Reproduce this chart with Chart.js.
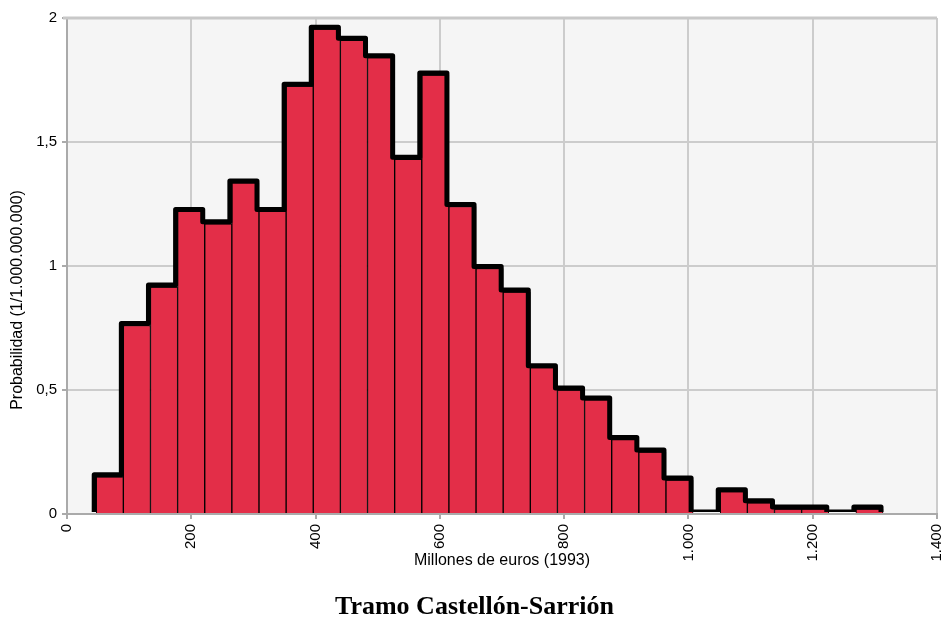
<!DOCTYPE html>
<html>
<head>
<meta charset="utf-8">
<script src="https://cdn.jsdelivr.net/npm/chart.js@4/dist/chart.umd.min.js"></script>
<style>
  html, body { margin: 0; padding: 0; background: #fff; }
  #wrap { width: 945px; height: 618px; }
</style>
</head>
<body>
<div id="wrap"><canvas id="chart" width="945" height="618"></canvas></div>
<script>
// Bin edges (millones de euros, 1993)
const binEdges = [47, 90.66, 134.32, 177.98, 221.64, 265.3, 308.96, 352.62, 396.28, 439.94,
  483.6, 527.26, 570.92, 614.58, 658.24, 701.9, 745.56, 789.22, 832.88, 876.54,
  920.2, 963.86, 1007.52, 1051.18, 1094.84, 1138.5, 1182.16, 1225.82, 1269.48, 1313.14];

// Probability per bin (1/1.000.000.000)
const probValues = [0.15, 0.76, 0.915, 1.22, 1.17, 1.335, 1.22, 1.725, 1.955, 1.91,
  1.84, 1.43, 1.77, 1.24, 0.99, 0.895, 0.59, 0.50, 0.46, 0.30,
  0.25, 0.137, 0, 0.09, 0.045, 0.02, 0.02, 0, 0.02];

const xTicks = [0, 200, 400, 600, 800, 1000, 1200, 1400];
const yTicks = [0, 0.5, 1, 1.5, 2];

const chartTitle = "Tramo Castellón-Sarrión";
const xTitle = "Millones de euros (1993)";
const yTitle = "Probabilidad (1/1.000.000.000)";

// bars sit at the centre of each bin
const barPoints = probValues.map((v, i) => ({ x: (binEdges[i] + binEdges[i + 1]) / 2, y: v }));

// stepped outline over the histogram
const outlinePoints = [{ x: binEdges[0], y: 0 }];
probValues.forEach((v, i) => outlinePoints.push({ x: binEdges[i], y: v }));
outlinePoints.push({ x: binEdges[binEdges.length - 1], y: 0 });

const fmtThousands = (v) => String(v).replace(/\B(?=(\d{3})+(?!\d))/g, ".");
const fmtDecimal = (v) => String(v).replace(".", ",");

const labelFamily = "'Liberation Sans', Arial, sans-serif";

const plotBackground = {
  id: "plotBackground",
  beforeDraw(chart) {
    const { ctx, chartArea: a } = chart;
    ctx.save();
    ctx.fillStyle = "#f5f5f5";
    ctx.fillRect(a.left, a.top, a.right - a.left, a.bottom - a.top);
    ctx.restore();
  },
  afterDraw(chart) {
    const { ctx, chartArea: a } = chart;
    ctx.save();
    ctx.strokeStyle = "#c8c8c8";
    ctx.lineWidth = 3;
    ctx.beginPath();
    ctx.moveTo(a.left - 4, a.top);
    ctx.lineTo(a.right, a.top);
    ctx.stroke();

    // y axis title, centred on the figure height like the original
    ctx.fillStyle = "#000";
    ctx.font = "16px " + labelFamily;
    ctx.textAlign = "center";
    ctx.textBaseline = "middle";
    ctx.translate(18, 300);
    ctx.rotate(-Math.PI / 2);
    ctx.fillText(yTitle, 0, 0);
    ctx.setTransform(1, 0, 0, 1, 0, 0);

    // bottom title
    ctx.font = "bold 26px 'Liberation Serif', 'DejaVu Serif', serif";
    ctx.textBaseline = "alphabetic";
    ctx.fillText(chartTitle, chart.width / 2 + 2, 614);
    ctx.restore();
  }
};

// the thick outline is drawn slightly up and left of the bars
const shadowShift = {
  id: "shadowShift",
  beforeDatasetDraw(chart, args) {
    if (args.index === 1) {
      chart.ctx.save();
      chart.ctx.translate(-2, -2);
    }
  },
  afterDatasetDraw(chart, args) {
    if (args.index === 1) chart.ctx.restore();
  }
};

const tickFont = { family: labelFamily, size: 15 };
const titleFont = { family: labelFamily, size: 16 };

new Chart(document.getElementById("chart"), {
  type: "bar",
  data: {
    datasets: [
      {
        type: "bar",
        data: barPoints,
        backgroundColor: "#e32e48",
        borderColor: "#000",
        borderWidth: 1,
        barPercentage: 1,
        categoryPercentage: 1,
        order: 2
      },
      {
        type: "line",
        data: outlinePoints,
        stepped: true,
        borderColor: "#000",
        borderWidth: 5,
        borderJoinStyle: "round",
        pointRadius: 0,
        fill: false,
        order: 1
      }
    ]
  },
  options: {
    responsive: false,
    animation: false,
    layout: { padding: { top: 18, right: 8, bottom: 44, left: 0 } },
    plugins: {
      legend: { display: false },
      tooltip: { enabled: false }
    },
    scales: {
      x: {
        type: "linear",
        min: 0,
        max: 1400,
        offset: false,
        afterBuildTicks: (scale) => { scale.ticks = xTicks.map((v) => ({ value: v })); },
        afterFit: (scale) => {
          scale.height = 60;
          scale.paddingLeft = 0;
          scale.paddingRight = 0;
        },
        ticks: {
          color: "#000",
          font: tickFont,
          minRotation: 90,
          maxRotation: 90,
          padding: 5,
          callback: (v) => fmtThousands(v)
        },
        grid: { color: "#cccccc", lineWidth: 2, offset: false, tickLength: 5, tickColor: "#aaaaaa" },
        border: { color: "#aaaaaa", width: 2 },
        title: { display: true, text: xTitle, color: "#000", font: titleFont, padding: { top: 0, bottom: 4 } }
      },
      y: {
        min: 0,
        max: 2,
        afterBuildTicks: (scale) => { scale.ticks = yTicks.map((v) => ({ value: v })); },
        afterFit: (scale) => {
          scale.width = 67;
          scale.paddingTop = 0;
          scale.paddingBottom = 0;
        },
        ticks: {
          color: "#000",
          font: tickFont,
          padding: 5,
          callback: (v) => fmtDecimal(v)
        },
        grid: { color: "#cccccc", lineWidth: 2, tickLength: 5, tickColor: "#aaaaaa" },
        border: { color: "#aaaaaa", width: 2 },
        title: { display: false }
      }
    }
  },
  plugins: [plotBackground, shadowShift]
});
</script>
</body>
</html>
